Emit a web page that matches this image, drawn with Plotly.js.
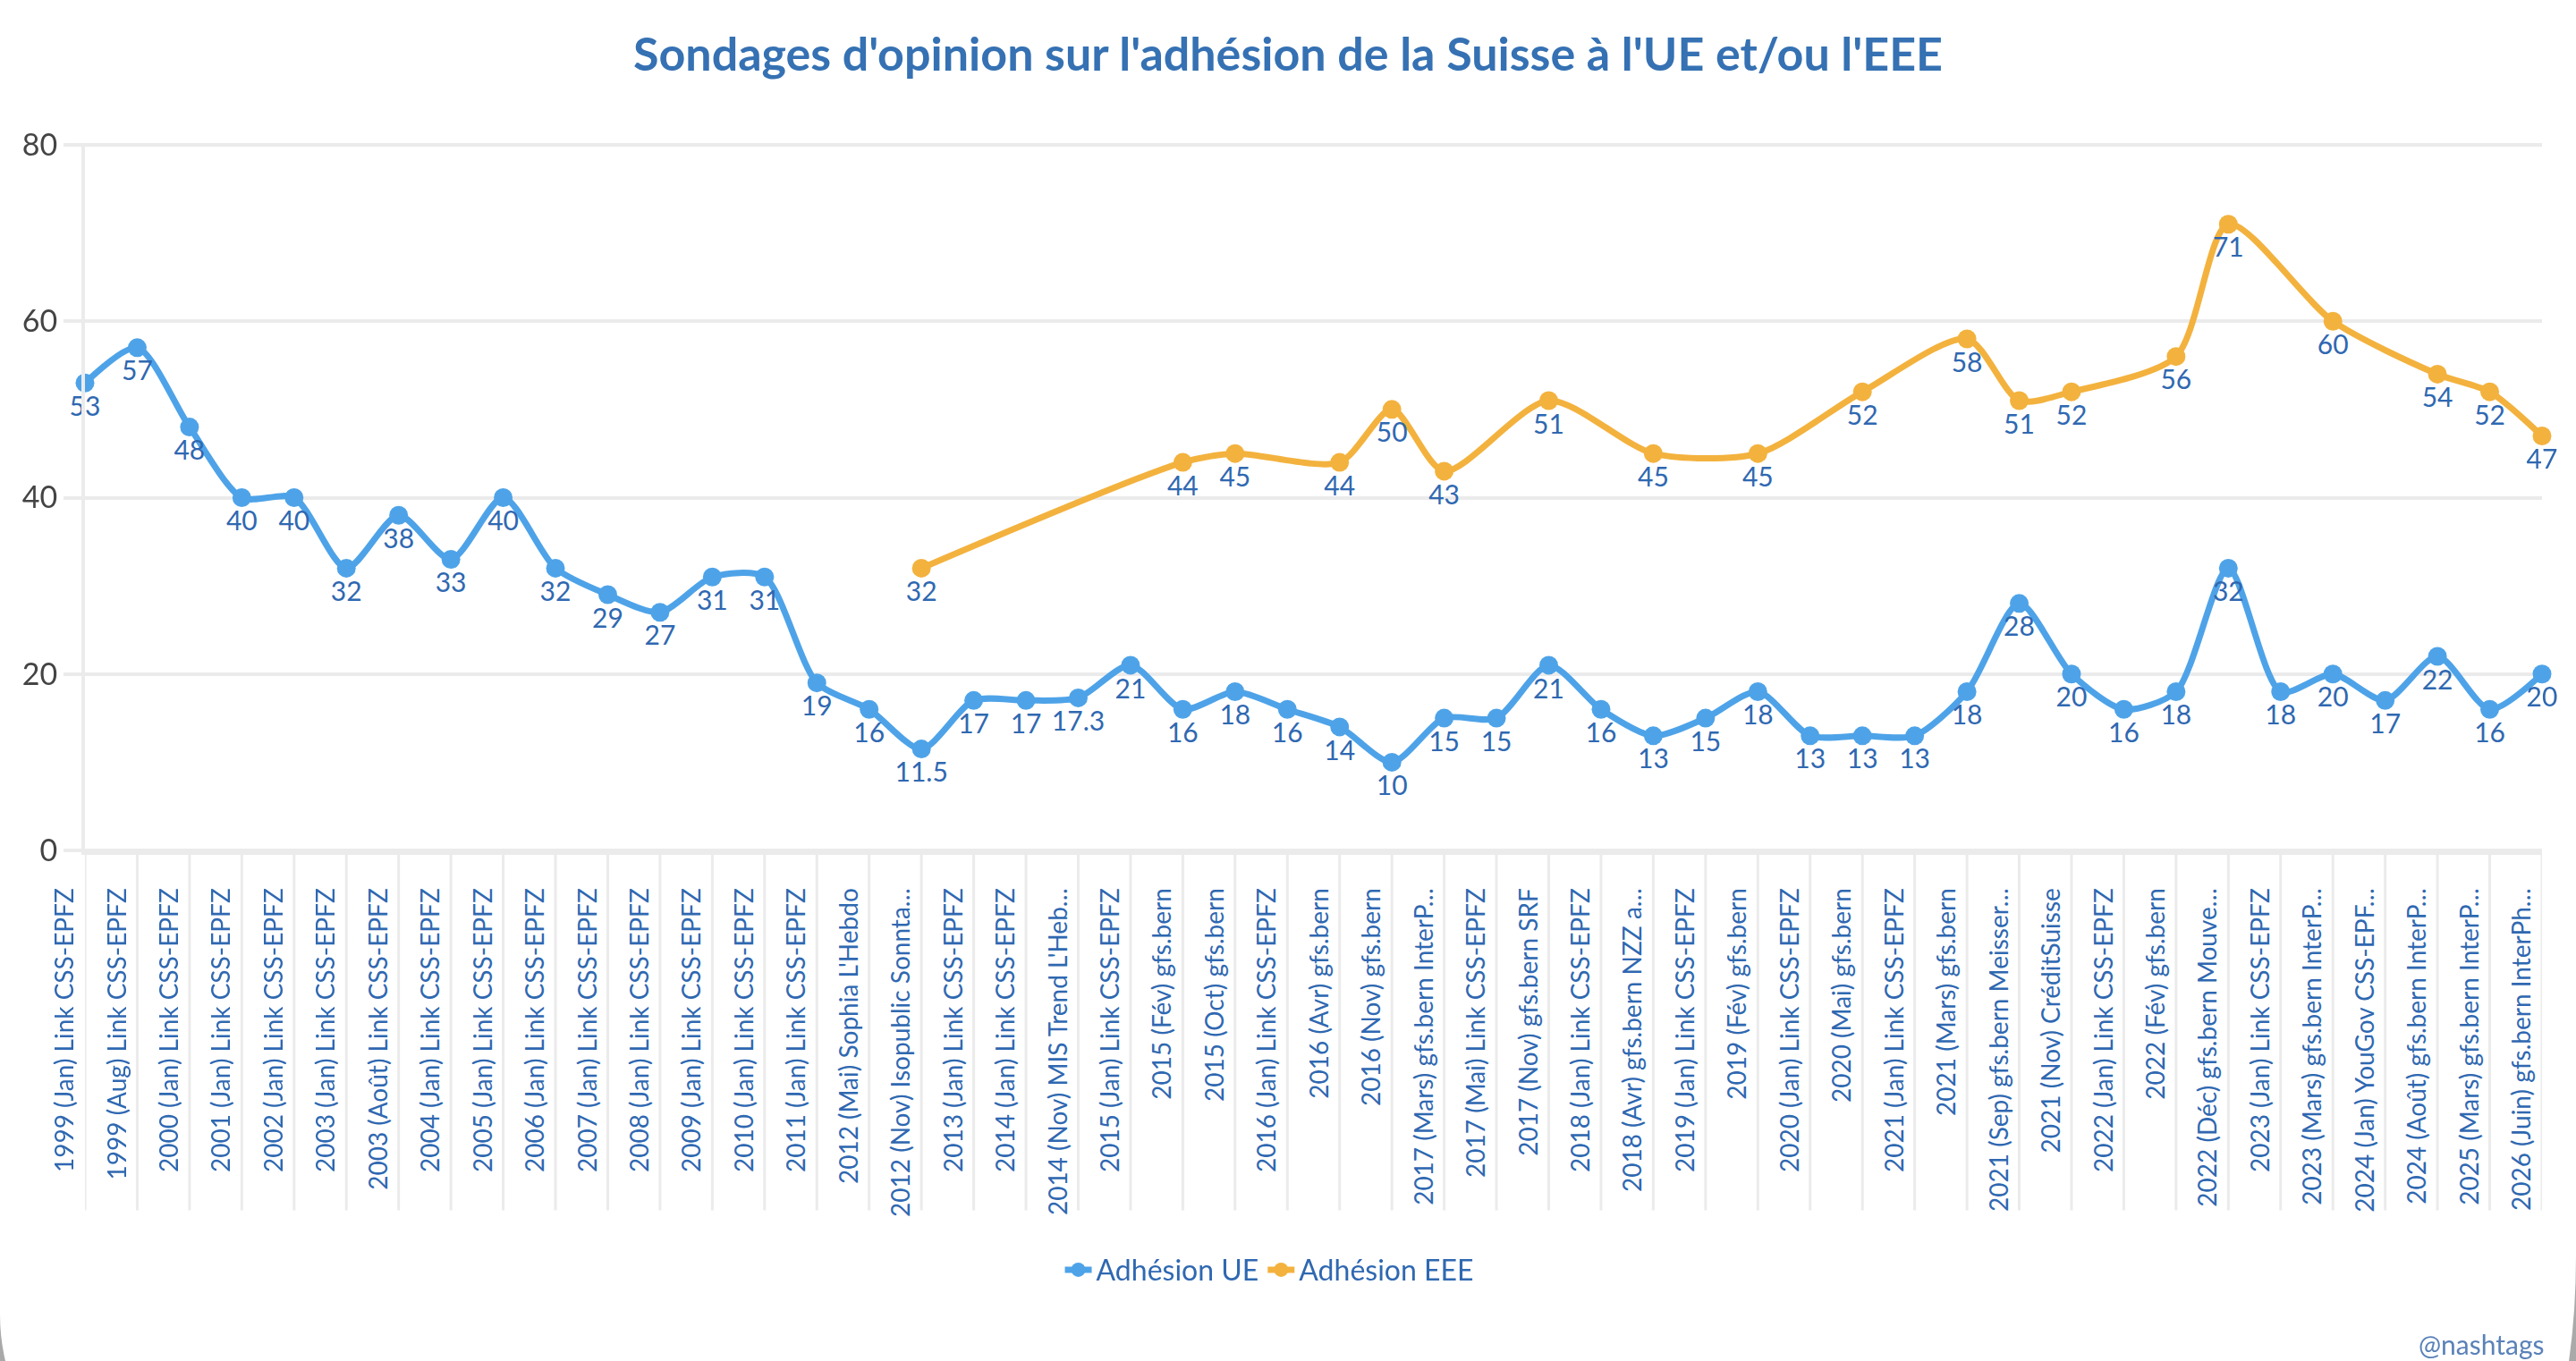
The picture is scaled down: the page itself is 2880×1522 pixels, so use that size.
<!DOCTYPE html>
<html>
<head>
<meta charset="utf-8">
<script src="https://cdn.plot.ly/plotly-3.0.1.min.js"></script>
<style>
  html, body { margin: 0; padding: 0; width: 2880px; height: 1522px; overflow: hidden; background: #a9a9a9; }
  #card { position: absolute; left: 0; top: -200px; width: 2880px; height: 1905px; background: #ffffff;
          border-bottom-left-radius: 240px 235px; border-bottom-right-radius: 100px 300px; }
  #chart { position: absolute; left: 0; top: 0; width: 2880px; height: 1522px; }
</style>
</head>
<body>
<div id="card"></div>
<div id="chart"></div>
<script>
const categories = [
  "1999 (Jan) Link CSS-EPFZ", "1999 (Aug) Link CSS-EPFZ", "2000 (Jan) Link CSS-EPFZ",
  "2001 (Jan) Link CSS-EPFZ", "2002 (Jan) Link CSS-EPFZ", "2003 (Jan) Link CSS-EPFZ",
  "2003 (Août) Link CSS-EPFZ", "2004 (Jan) Link CSS-EPFZ", "2005 (Jan) Link CSS-EPFZ",
  "2006 (Jan) Link CSS-EPFZ", "2007 (Jan) Link CSS-EPFZ", "2008 (Jan) Link CSS-EPFZ",
  "2009 (Jan) Link CSS-EPFZ", "2010 (Jan) Link CSS-EPFZ", "2011 (Jan) Link CSS-EPFZ",
  "2012 (Mai) Sophia L'Hebdo", "2012 (Nov) Isopublic Sonnta…", "2013 (Jan) Link CSS-EPFZ",
  "2014 (Jan) Link CSS-EPFZ", "2014 (Nov) MIS Trend L'Heb…", "2015 (Jan) Link CSS-EPFZ",
  "2015 (Fév) gfs.bern", "2015 (Oct) gfs.bern", "2016 (Jan) Link CSS-EPFZ",
  "2016 (Avr) gfs.bern", "2016 (Nov) gfs.bern", "2017 (Mars) gfs.bern InterP…",
  "2017 (Mai) Link CSS-EPFZ", "2017 (Nov) gfs.bern SRF", "2018 (Jan) Link CSS-EPFZ",
  "2018 (Avr) gfs.bern NZZ a…", "2019 (Jan) Link CSS-EPFZ", "2019 (Fév) gfs.bern",
  "2020 (Jan) Link CSS-EPFZ", "2020 (Mai) gfs.bern", "2021 (Jan) Link CSS-EPFZ",
  "2021 (Mars) gfs.bern", "2021 (Sep) gfs.bern Meisser…", "2021 (Nov) CréditSuisse",
  "2022 (Jan) Link CSS-EPFZ", "2022 (Fév) gfs.bern", "2022 (Déc) gfs.bern Mouve…",
  "2023 (Jan) Link CSS-EPFZ", "2023 (Mars) gfs.bern InterP…", "2024 (Jan) YouGov CSS-EPF…",
  "2024 (Août) gfs.bern InterP…", "2025 (Mars) gfs.bern InterP…", "2026 (Juin) gfs.bern InterPh…"
];

const adhesionUE = [
  53, 57, 48, 40, 40, 32, 38, 33, 40, 32, 29, 27, 31, 31, 19, 16, 11.5, 17, 17, 17.3,
  21, 16, 18, 16, 14, 10, 15, 15, 21, 16, 13, 15, 18, 13, 13, 13, 18, 28, 20, 16,
  18, 32, 18, 20, 17, 22, 16, 20
];

const adhesionEEE = [
  null, null, null, null, null, null, null, null, null, null, null, null, null, null, null, null, 32, null, null, null,
  null, 44, 45, null, 44, 50, 43, null, 51, null, 45, null, 45, null, 52, null, 58, 51, 52, null,
  56, 71, null, 60, null, 54, 52, 47
];

const seriesNames = ["Adhésion UE", "Adhésion EEE"];
const yTicks = [0, 20, 40, 60, 80];

const FONT = "Lato, 'Open Sans', sans-serif";
const BLUE_TXT = "#2f68b1";
const colUE = "#4ea3e8";
const colEEE = "#f3b23e";

function lineTrace(name, values, color) {
  return {
    type: "scatter",
    mode: "lines+markers+text",
    name: name,
    x: categories,
    y: values,
    connectgaps: true,
    cliponaxis: false,
    line: { color: color, width: 7, shape: "spline", smoothing: 0.75 },
    marker: { color: color, size: 21 },
    texttemplate: "%{y}",
    textposition: "bottom center",
    textfont: { family: FONT, size: 30, color: BLUE_TXT },
    hoverinfo: "skip"
  };
}

const data = [
  lineTrace(seriesNames[0], adhesionUE, colUE),
  lineTrace(seriesNames[1], adhesionEEE, colEEE)
];

// light vertical separators under the x axis, one per category
const shapes = categories.map((c, i) => ({
  type: "line", xref: "x", yref: "paper",
  x0: i, x1: i, y0: 0, y1: -0.505,
  line: { color: "#ebebeb", width: 3 },
  layer: "below"
}));

const layout = {
  width: 2880,
  height: 1522,
  paper_bgcolor: "rgba(0,0,0,0)",
  plot_bgcolor: "rgba(0,0,0,0)",
  margin: { l: 95, r: 38, t: 160, b: 569, pad: 0 },
  font: { family: FONT, color: BLUE_TXT },
  title: {
    text: "<b>Sondages d'opinion sur l'adhésion de la Suisse à l'UE et/ou l'EEE</b>",
    font: { family: FONT, size: 52, color: "#3571b3" },
    x: 0.5, xanchor: "center", xref: "container",
    y: 0.96, yanchor: "middle", yref: "container"
  },
  xaxis: {
    type: "category",
    range: [0, categories.length - 1],
    tickangle: -90,
    tickfont: { family: FONT, size: 28, color: BLUE_TXT },
    ticks: "",
    ticklabelstandoff: 26,
    ticklabelshift: -22,
    showgrid: false,
    zeroline: false,
    showline: true,
    linecolor: "#ebebeb",
    linewidth: 3,
    automargin: false,
    fixedrange: true
  },
  yaxis: {
    range: [-0.2, 80.2],
    tickvals: yTicks,
    ticktext: yTicks.map(String),
    tickfont: { family: FONT, size: 34, color: "#444444" },
    ticks: "outside",
    ticklen: 20,
    tickwidth: 4,
    tickcolor: "#ebebeb",
    showgrid: true,
    gridcolor: "#ebebeb",
    gridwidth: 4,
    zeroline: false,
    showline: true,
    linecolor: "#ebebeb",
    linewidth: 4,
    automargin: false,
    fixedrange: true
  },
  showlegend: true,
  legend: {
    orientation: "h",
    x: 0.482, xanchor: "center",
    y: -0.589, yanchor: "middle",
    font: { family: FONT, size: 32, color: BLUE_TXT },
    itemwidth: 30,
    bgcolor: "rgba(0,0,0,0)"
  },
  shapes: shapes,
  annotations: [{
    text: "@nashtags",
    xref: "paper", yref: "paper",
    x: 1.002, xanchor: "right",
    y: -0.694, yanchor: "middle",
    showarrow: false,
    font: { family: FONT, size: 30, color: "#5a82b8" }
  }],
  hovermode: false
};

Plotly.newPlot("chart", data, layout, { displayModeBar: false, staticPlot: true });
</script>
</body>
</html>
